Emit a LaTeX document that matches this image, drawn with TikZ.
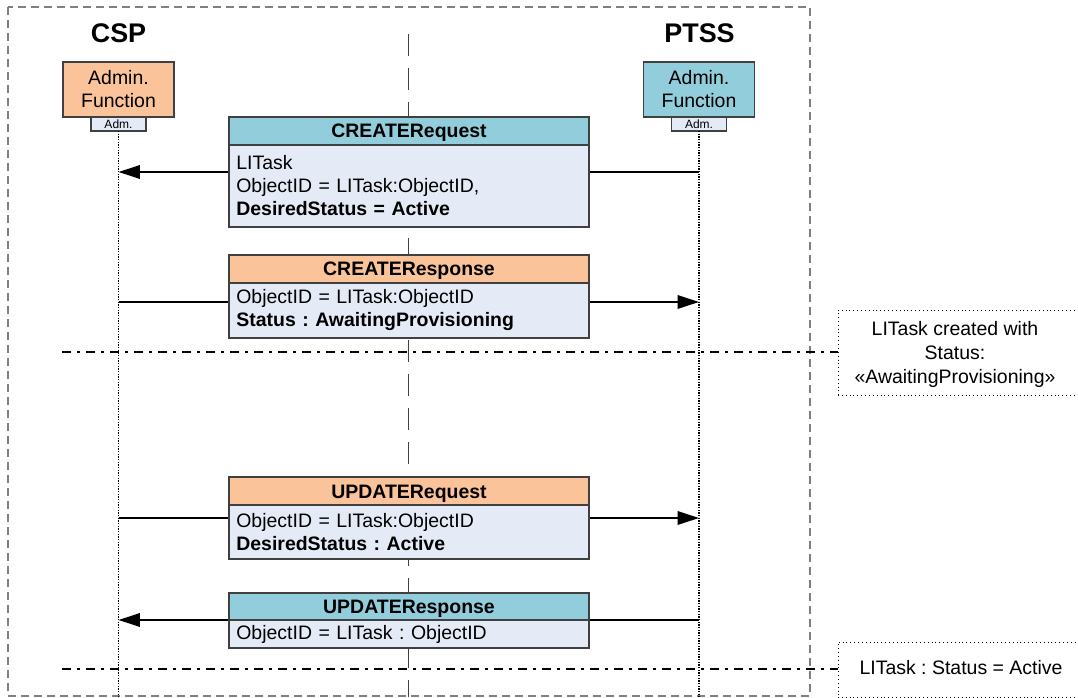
\documentclass[tikz,border=0pt]{standalone}
\usepackage{fontspec}
\setmainfont{Liberation Sans}
\frenchspacing
\usetikzlibrary{arrows.meta}
\definecolor{tealc}{HTML}{92CDDC}
\definecolor{orngc}{HTML}{FAC39A}
\definecolor{bodyc}{HTML}{E4EBF6}
\definecolor{edgec}{HTML}{404040}
\definecolor{outerc}{HTML}{808080}
\tikzset{
  hdr/.style={draw=edgec, line width=0.8pt, minimum width=270pt, minimum height=21pt,
    inner sep=0pt, outer sep=0pt, anchor=north, text height=10.5pt, text depth=0pt,
    font=\fontsize{14.6}{17.25}\selectfont\bfseries},
  bodyb/.style={draw=edgec, line width=0.8pt, fill=bodyc, text width=259pt, inner xsep=5.5pt,
    inner ysep=0pt, outer sep=0pt, align=left, anchor=north, font=\fontsize{14.6}{17.25}\selectfont},
  admbox/.style={draw=edgec, line width=0.8pt, minimum width=83.25pt, minimum height=41.25pt,
    inner sep=0pt, outer sep=0pt, align=center, font=\fontsize{14.6}{17.25}\selectfont},
  admsmall/.style={draw=edgec, line width=0.8pt, fill=bodyc, minimum width=41.25pt, minimum height=10.5pt,
    inner sep=0pt, outer sep=0pt, anchor=north, font=\fontsize{9}{10}\selectfont},
  titletxt/.style={font=\fontsize{20.2}{22}\selectfont\bfseries, inner sep=0pt},
  notebox/.style={draw=black, line width=0.7pt, dash pattern=on 0.7pt off 2.2pt, inner sep=0pt},
  notetext/.style={align=center, inner sep=0pt, font=\fontsize{14.6}{18}\selectfont},
  lifeline/.style={draw=black, line width=1pt, dash pattern=on 1pt off 1pt},
  msg/.style={draw=black, line width=1.6pt, -{Triangle[length=16pt,width=10pt]}},
  sepline/.style={draw=black, line width=1.1pt, dash pattern=on 6.75pt off 4.5pt on 2.25pt off 4.5pt},
  outerline/.style={draw=outerc, line width=1.1pt, dash pattern=on 6pt off 3.75pt},
  centerline/.style={draw=edgec, line width=1.4pt, dash pattern=on 16.5pt off 9pt},
}
\begin{document}
\begin{tikzpicture}[x=0.75pt,y=-0.75pt]
\useasboundingbox (0,0) rectangle (1078,698);

% outer frame
\coordinate (o1) at (8,7);
\coordinate (o2) at (810,696);
\draw[outerline] (o1) rectangle (o2);

% centre line
\coordinate (ctop) at (408.5,34);
\coordinate (cbot) at (408.5,697);
\draw[centerline] (ctop) -- (cbot);

% titles
\node[titletxt] (csp) at (118.5,33) {CSP};
\node[titletxt] (ptss) at (699.5,33) {PTSS};

% admin boxes
\node[admbox, fill=orngc] (cspadm) at (118.5,89.5) {Admin.\\Function};
\node[admsmall] (cspsm) at (cspadm.south) {Adm.};
\node[admbox, fill=tealc] (ptssadm) at (699,89.5) {Admin.\\Function};
\node[admsmall] (ptsssm) at (ptssadm.south) {Adm.};

% lifelines
\coordinate (cspend) at (118.5,697);
\coordinate (ptssend) at (699,697);
\draw[lifeline] (cspsm.south) -- (cspend);
\draw[lifeline] (ptsssm.south) -- (ptssend);

% separator lines and notes
\node[notebox, minimum width=183pt, minimum height=63.75pt] (note1) at (960,352.5) {};
\node[notetext] (note1t) at (955,354) {LITask created with\\Status:\\«AwaitingProvisioning»};
\node[notebox, minimum width=183pt, minimum height=41.25pt] (note2) at (960,669.5) {};
\node[notetext] (note2t) at (961,668) {LITask : Status = Active};
\coordinate (s1) at (62,352);
\coordinate (s1e) at (note1.west |- s1);
\draw[sepline] (s1) -- (s1e);
\coordinate (s2) at (62,669);
\coordinate (s2e) at (note2.west |- s2);
\draw[sepline] (s2) -- (s2e);

% message arrows
\coordinate (p1) at (699,172);  \coordinate (c1) at (118.5,172);
\coordinate (p2) at (699,302);  \coordinate (c2) at (118.5,302);
\coordinate (p3) at (699,518);  \coordinate (c3) at (118.5,518);
\coordinate (p4) at (699,620);  \coordinate (c4) at (118.5,620);
\draw[msg] (p1) -- (c1);
\draw[msg] (c2) -- (p2);
\draw[msg] (c3) -- (p3);
\draw[msg] (p4) -- (c4);

% message boxes
\node[hdr, fill=tealc] (crq) at (409,117) {CREATERequest};
\node[bodyb, minimum height=61.5pt] (crqb) at (crq.south) {LITask\\ObjectID = LITask:ObjectID,\\\textbf{DesiredStatus = Active}};

\node[hdr, fill=orngc] (crs) at (409,255) {CREATEResponse};
\node[bodyb, minimum height=41.25pt] (crsb) at (crs.south) {ObjectID = LITask:ObjectID\\\textbf{Status : AwaitingProvisioning}};

\node[hdr, fill=orngc] (urq) at (409,477) {UPDATERequest};
\node[bodyb, minimum height=40.5pt] (urqb) at (urq.south) {ObjectID = LITask:ObjectID\\\textbf{DesiredStatus : Active}};

\node[hdr, fill=tealc, minimum height=20.25pt] (urs) at (409,593) {UPDATEResponse};
\node[bodyb, minimum height=21pt] (ursb) at (urs.south) {ObjectID = LITask : ObjectID};
\end{tikzpicture}
\end{document}
